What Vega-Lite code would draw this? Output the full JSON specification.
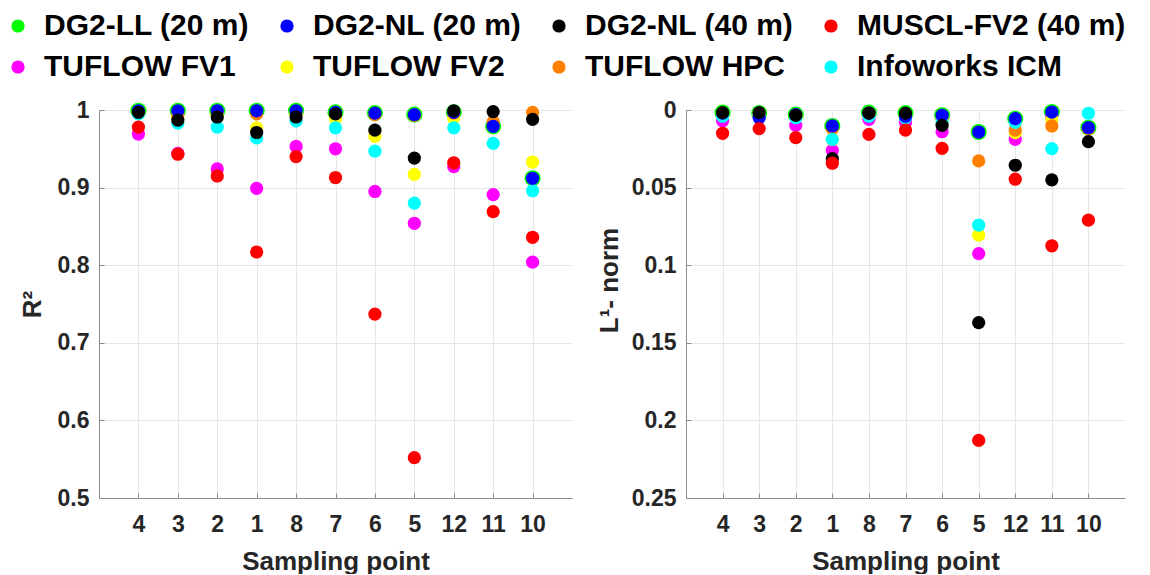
{
  "$schema": "https://vega.github.io/schema/vega-lite/v6.json",
  "padding": {"left": 3, "top": 11, "right": 0, "bottom": 0},
  "background": "white",
  "spacing": 114,
  "bounds": "flush",
  "config": {
    "view": {"stroke": null},
    "axis": {
      "labelFont": "Liberation Sans", "labelFontSize": 23, "labelFontWeight": "bold", "labelColor": "#262626",
      "titleFont": "Liberation Sans", "titleFontSize": 26, "titleFontWeight": "bold", "titleColor": "#262626",
      "domainColor": "#8c8c8c", "tickColor": "#8c8c8c", "gridColor": "#e6e6e6", "tickSize": -5, "labelPadding": 15,
      "labelOverlap": false
    },
    "axisX": {"labelPadding": 20}
  },
  "data": {"values": [
    {"point":"4","method":"DG2-LL (20 m)","r2":0.999,"l1":0.0017},
    {"point":"3","method":"DG2-LL (20 m)","r2":0.999,"l1":0.002},
    {"point":"2","method":"DG2-LL (20 m)","r2":0.999,"l1":0.003},
    {"point":"1","method":"DG2-LL (20 m)","r2":0.999,"l1":0.0103},
    {"point":"8","method":"DG2-LL (20 m)","r2":0.999,"l1":0.0017},
    {"point":"7","method":"DG2-LL (20 m)","r2":0.997,"l1":0.002},
    {"point":"6","method":"DG2-LL (20 m)","r2":0.996,"l1":0.0034},
    {"point":"5","method":"DG2-LL (20 m)","r2":0.994,"l1":0.0142},
    {"point":"12","method":"DG2-LL (20 m)","r2":0.997,"l1":0.0056},
    {"point":"11","method":"DG2-LL (20 m)","r2":0.979,"l1":0.0013},
    {"point":"10","method":"DG2-LL (20 m)","r2":0.912,"l1":0.0114},
    {"point":"4","method":"TUFLOW FV1","r2":0.969,"l1":0.007},
    {"point":"3","method":"TUFLOW FV1","r2":0.944,"l1":0.004},
    {"point":"2","method":"TUFLOW FV1","r2":0.924,"l1":0.0099},
    {"point":"1","method":"TUFLOW FV1","r2":0.899,"l1":0.026},
    {"point":"8","method":"TUFLOW FV1","r2":0.953,"l1":0.006},
    {"point":"7","method":"TUFLOW FV1","r2":0.950,"l1":0.008},
    {"point":"6","method":"TUFLOW FV1","r2":0.895,"l1":0.014},
    {"point":"5","method":"TUFLOW FV1","r2":0.854,"l1":0.0925},
    {"point":"12","method":"TUFLOW FV1","r2":0.927,"l1":0.0189},
    {"point":"11","method":"TUFLOW FV1","r2":0.891,"l1":0.004},
    {"point":"10","method":"TUFLOW FV1","r2":0.804,"l1":0.012},
    {"point":"4","method":"TUFLOW FV2","r2":0.996,"l1":0.003},
    {"point":"3","method":"TUFLOW FV2","r2":0.990,"l1":0.003},
    {"point":"2","method":"TUFLOW FV2","r2":0.993,"l1":0.004},
    {"point":"1","method":"TUFLOW FV2","r2":0.977,"l1":0.019},
    {"point":"8","method":"TUFLOW FV2","r2":0.994,"l1":0.003},
    {"point":"7","method":"TUFLOW FV2","r2":0.989,"l1":0.004},
    {"point":"6","method":"TUFLOW FV2","r2":0.966,"l1":0.008},
    {"point":"5","method":"TUFLOW FV2","r2":0.917,"l1":0.0806},
    {"point":"12","method":"TUFLOW FV2","r2":0.990,"l1":0.0146},
    {"point":"11","method":"TUFLOW FV2","r2":0.980,"l1":0.006},
    {"point":"10","method":"TUFLOW FV2","r2":0.933,"l1":0.012},
    {"point":"4","method":"TUFLOW HPC","r2":0.998,"l1":0.002},
    {"point":"3","method":"TUFLOW HPC","r2":0.995,"l1":0.002},
    {"point":"2","method":"TUFLOW HPC","r2":0.997,"l1":0.003},
    {"point":"1","method":"TUFLOW HPC","r2":0.995,"l1":0.012},
    {"point":"8","method":"TUFLOW HPC","r2":0.997,"l1":0.002},
    {"point":"7","method":"TUFLOW HPC","r2":0.996,"l1":0.003},
    {"point":"6","method":"TUFLOW HPC","r2":0.994,"l1":0.005},
    {"point":"5","method":"TUFLOW HPC","r2":0.993,"l1":0.0328},
    {"point":"12","method":"TUFLOW HPC","r2":0.996,"l1":0.0129},
    {"point":"11","method":"TUFLOW HPC","r2":0.985,"l1":0.0103},
    {"point":"10","method":"TUFLOW HPC","r2":0.997,"l1":0.012},
    {"point":"4","method":"Infoworks ICM","r2":0.995,"l1":0.004},
    {"point":"3","method":"Infoworks ICM","r2":0.983,"l1":0.003},
    {"point":"2","method":"Infoworks ICM","r2":0.978,"l1":0.005},
    {"point":"1","method":"Infoworks ICM","r2":0.964,"l1":0.0189},
    {"point":"8","method":"Infoworks ICM","r2":0.986,"l1":0.004},
    {"point":"7","method":"Infoworks ICM","r2":0.977,"l1":0.005},
    {"point":"6","method":"Infoworks ICM","r2":0.947,"l1":0.008},
    {"point":"5","method":"Infoworks ICM","r2":0.880,"l1":0.0742},
    {"point":"12","method":"Infoworks ICM","r2":0.977,"l1":0.008},
    {"point":"11","method":"Infoworks ICM","r2":0.957,"l1":0.0249},
    {"point":"10","method":"Infoworks ICM","r2":0.896,"l1":0.0021},
    {"point":"4","method":"DG2-NL (20 m)","r2":0.999,"l1":0.002},
    {"point":"3","method":"DG2-NL (20 m)","r2":0.999,"l1":0.005},
    {"point":"2","method":"DG2-NL (20 m)","r2":0.999,"l1":0.003},
    {"point":"1","method":"DG2-NL (20 m)","r2":0.999,"l1":0.0103},
    {"point":"8","method":"DG2-NL (20 m)","r2":0.999,"l1":0.002},
    {"point":"7","method":"DG2-NL (20 m)","r2":0.997,"l1":0.004},
    {"point":"6","method":"DG2-NL (20 m)","r2":0.996,"l1":0.0034},
    {"point":"5","method":"DG2-NL (20 m)","r2":0.994,"l1":0.0142},
    {"point":"12","method":"DG2-NL (20 m)","r2":0.997,"l1":0.0056},
    {"point":"11","method":"DG2-NL (20 m)","r2":0.979,"l1":0.0013},
    {"point":"10","method":"DG2-NL (20 m)","r2":0.912,"l1":0.0114},
    {"point":"4","method":"DG2-NL (40 m)","r2":0.997,"l1":0.0017},
    {"point":"3","method":"DG2-NL (40 m)","r2":0.987,"l1":0.0017},
    {"point":"2","method":"DG2-NL (40 m)","r2":0.991,"l1":0.0034},
    {"point":"1","method":"DG2-NL (40 m)","r2":0.971,"l1":0.0313},
    {"point":"8","method":"DG2-NL (40 m)","r2":0.991,"l1":0.002},
    {"point":"7","method":"DG2-NL (40 m)","r2":0.995,"l1":0.002},
    {"point":"6","method":"DG2-NL (40 m)","r2":0.974,"l1":0.0099},
    {"point":"5","method":"DG2-NL (40 m)","r2":0.938,"l1":0.137},
    {"point":"12","method":"DG2-NL (40 m)","r2":0.999,"l1":0.0356},
    {"point":"11","method":"DG2-NL (40 m)","r2":0.998,"l1":0.045},
    {"point":"10","method":"DG2-NL (40 m)","r2":0.988,"l1":0.0204},
    {"point":"4","method":"MUSCL-FV2 (40 m)","r2":0.978,"l1":0.015},
    {"point":"3","method":"MUSCL-FV2 (40 m)","r2":0.943,"l1":0.012},
    {"point":"2","method":"MUSCL-FV2 (40 m)","r2":0.915,"l1":0.0178},
    {"point":"1","method":"MUSCL-FV2 (40 m)","r2":0.817,"l1":0.0343},
    {"point":"8","method":"MUSCL-FV2 (40 m)","r2":0.940,"l1":0.0157},
    {"point":"7","method":"MUSCL-FV2 (40 m)","r2":0.913,"l1":0.0129},
    {"point":"6","method":"MUSCL-FV2 (40 m)","r2":0.737,"l1":0.0247},
    {"point":"5","method":"MUSCL-FV2 (40 m)","r2":0.552,"l1":0.2129},
    {"point":"12","method":"MUSCL-FV2 (40 m)","r2":0.932,"l1":0.0446},
    {"point":"11","method":"MUSCL-FV2 (40 m)","r2":0.869,"l1":0.0875},
    {"point":"10","method":"MUSCL-FV2 (40 m)","r2":0.836,"l1":0.071}
  ]},
  "hconcat": [
    {
      "width": 473, "height": 388,
      "mark": {"type": "point", "filled": true, "opacity": 1, "strokeWidth": 0},
      "encoding": {
        "x": {"field": "point", "type": "ordinal", "sort": ["4","3","2","1","8","7","6","5","12","11","10"],
              "scale": {"type": "point", "padding": 1},
              "axis": {"title": "Sampling point", "labelAngle": 0, "grid": true, "titleY": 50, "titleBaseline": "top"}},
        "y": {"field": "r2", "type": "quantitative", "scale": {"domain": [0.5, 1], "nice": false, "zero": false},
              "axis": {"title": "R²", "values": [0.5,0.6,0.7,0.8,0.9,1], "format": ".1~f", "grid": true, "titleX": -67, "titleBaseline": "middle"}},
        "color": {"field": "method", "type": "nominal",
                  "scale": {"domain": ["DG2-LL (20 m)","DG2-NL (20 m)","DG2-NL (40 m)","MUSCL-FV2 (40 m)","TUFLOW FV1","TUFLOW FV2","TUFLOW HPC","Infoworks ICM"],
                            "range": ["#00ff00","#0000ff","#000000","#ff0000","#ff00ff","#ffff00","#ff8000","#00ffff"]},
                  "legend": {"title": null, "orient": "none", "direction": "horizontal", "legendX": -96, "legendY": -99, "columns": 4, "padding": 0,
                             "symbolType": "circle", "symbolSize": 175, "symbolStrokeWidth": 0, "symbolOpacity": 1,
                             "labelFont": "Liberation Sans", "labelFontSize": 30, "labelFontWeight": "bold", "labelColor": "#000000",
                             "labelOffset": 11, "columnPadding": 22, "rowPadding": 11, "labelLimit": 500}},
        "size": {"condition": {"test": "datum.method === 'DG2-LL (20 m)'", "value": 260}, "value": 175}
      }
    },
    {
      "width": 439, "height": 388,
      "mark": {"type": "point", "filled": true, "opacity": 1, "strokeWidth": 0},
      "encoding": {
        "x": {"field": "point", "type": "ordinal", "sort": ["4","3","2","1","8","7","6","5","12","11","10"],
              "scale": {"type": "point", "padding": 1},
              "axis": {"title": "Sampling point", "labelAngle": 0, "grid": true, "titleY": 50, "titleBaseline": "top"}},
        "y": {"field": "l1", "type": "quantitative", "scale": {"domain": [0, 0.25], "nice": false, "zero": false, "reverse": true},
              "axis": {"title": "L¹- norm", "values": [0,0.05,0.1,0.15,0.2,0.25], "format": ".2~f", "grid": true, "titleX": -77, "titleY": 170, "titleBaseline": "middle"}},
        "color": {"field": "method", "type": "nominal",
                  "scale": {"domain": ["DG2-LL (20 m)","DG2-NL (20 m)","DG2-NL (40 m)","MUSCL-FV2 (40 m)","TUFLOW FV1","TUFLOW FV2","TUFLOW HPC","Infoworks ICM"],
                            "range": ["#00ff00","#0000ff","#000000","#ff0000","#ff00ff","#ffff00","#ff8000","#00ffff"]},
                  "legend": {"title": null, "orient": "none", "direction": "horizontal", "legendX": -96, "legendY": -99, "columns": 4, "padding": 0,
                             "symbolType": "circle", "symbolSize": 175, "symbolStrokeWidth": 0, "symbolOpacity": 1,
                             "labelFont": "Liberation Sans", "labelFontSize": 30, "labelFontWeight": "bold", "labelColor": "#000000",
                             "labelOffset": 11, "columnPadding": 22, "rowPadding": 11, "labelLimit": 500}},
        "size": {"condition": {"test": "datum.method === 'DG2-LL (20 m)'", "value": 260}, "value": 175}
      }
    }
  ]
}
